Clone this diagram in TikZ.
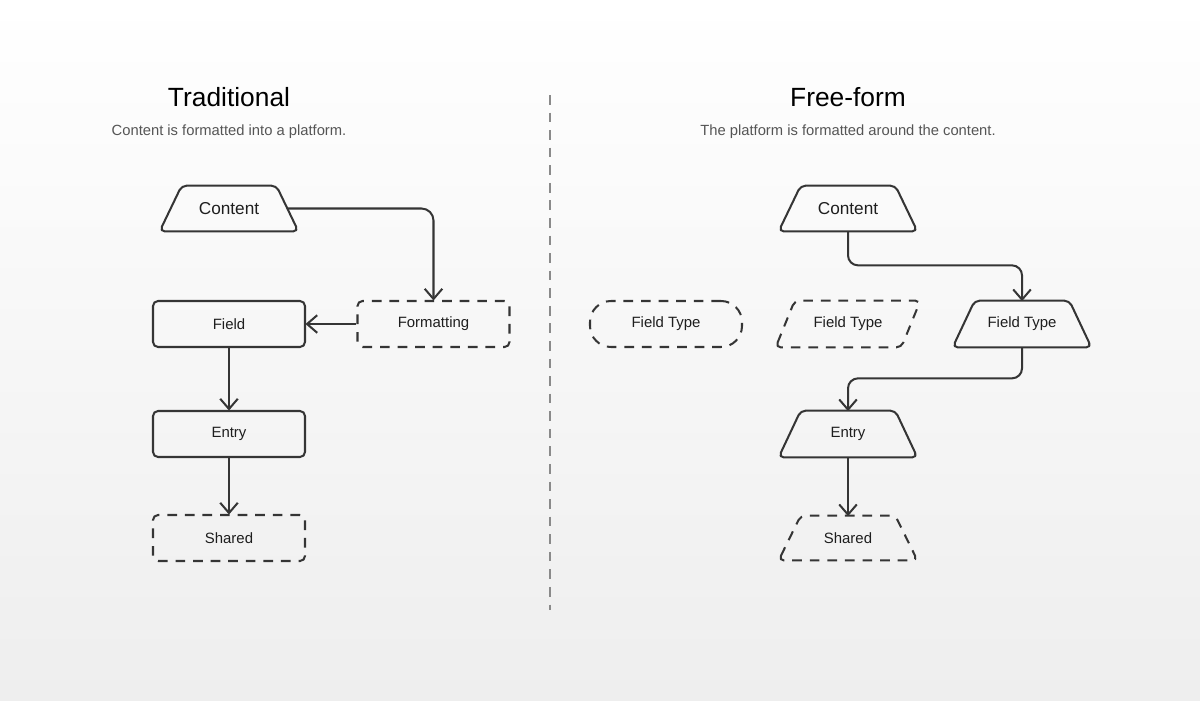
\documentclass[tikz,border=0pt]{standalone}
\usepackage{fontspec}
\setmainfont{Liberation Sans}
\usetikzlibrary{arrows.meta,calc}
\definecolor{ink}{HTML}{353535}
\definecolor{txt}{HTML}{1E1E1E}
\definecolor{sub}{HTML}{555555}
\definecolor{divc}{HTML}{8A8A8A}
\definecolor{bgb}{HTML}{EEEEEE}
\def\px{0.02cm}
\tikzset{
  lbl/.style={minimum width=152*\px, minimum height=46*\px, inner sep=0pt, text=txt,
    font=\fontsize{8.5}{10}\selectfont},
  box/.style={lbl, draw=ink, line width=1.15pt, rounded corners=5*\px},
  outl/.style={draw=ink, line width=1.15pt, line join=round, rounded corners=5*\px},
  dsh/.style={dash pattern=on 5.5pt off 4.5pt},
  tlbl/.style={lbl, minimum width=138*\px, minimum height=45*\px},
  plbl/.style={lbl, minimum width=144*\px},
  pill/.style={box, rounded corners=21*\px},
  big/.style={font=\fontsize{9.8}{12}\selectfont},
  conn/.style={draw=ink, line width=1.15pt, line join=round,
    -{Straight Barb[length=5.8pt,width=10pt,line join=round]}},
  title/.style={text=black, font=\fontsize{15}{18}\selectfont},
  subt/.style={text=sub, font=\fontsize{8.4}{10}\selectfont}
}
\newcommand{\trapout}[2][]{%
  \draw[outl,#1] (#2.south west) -- ($(#2.north west)+(22,0)$) -- ($(#2.north east)+(-22,0)$)
    -- (#2.south east) -- cycle;}
\begin{document}
\begin{tikzpicture}[x=0.02cm,y=-0.02cm]
\fill[top color=white, bottom color=bgb] (0,0) rectangle (1200,700);
\useasboundingbox (0,0) rectangle (1200,700);

% divider
\draw[divc, line width=0.8pt, dash pattern=on 5.5pt off 4.5pt] (550,95) coordinate (d1) -- (550,610) coordinate (d2);

% titles
\node[title] (tl) at (229,97) {Traditional};
\node[subt] (sl) at (229,131.5) {Content is formatted into a platform.};
\node[title] (tr) at (848,97) {Free-form};
\node[subt] (sr) at (848,131.5) {The platform is formatted around the content.};

% left side
\node[tlbl, big] (lc) at (229,208.5) {Content};
\trapout{lc}
\coordinate (lce) at ($(lc.east)+(-11,0)$);
\node[box] (lf) at (229,324) {Field};
\node[box, dsh] (lfo) at (433.5,324) {Formatting};
\node[box] (le) at (229,434) {Entry};
\node[box, dsh] (ls) at (229,538) {Shared};

\draw[conn, rounded corners=12*\px] (lce) -| (lfo.north);
\draw[conn] (lfo.west) -- (lf.east);
\draw[conn] (lf.south) -- (le.north);
\draw[conn] (le.south) -- (ls.north);

% right side
\node[tlbl, big] (rc) at (848,208.5) {Content};
\trapout{rc}
\node[pill, dsh] (rp) at (666,324) {Field Type};
\node[plbl] (rpa) at (848,324) {Field Type};
\draw[outl, dsh] (rpa.south west) -- ($(rpa.north west)+(19,0)$) -- (rpa.north east)
  -- ($(rpa.south east)+(-19,0)$) -- cycle;
\node[tlbl, minimum height=46*\px] (rft) at (1022,324) {Field Type};
\trapout{rft}
\node[tlbl, minimum height=46*\px] (re) at (848,434) {Entry};
\trapout{re}
\node[tlbl, minimum height=44*\px] (rs) at (848,538) {Shared};
\trapout[dsh]{rs}

\draw[conn, rounded corners=10*\px] (rc.south) -- ++(0,34) -| (rft.north);
\draw[conn, rounded corners=10*\px] (rft.south) -- ++(0,31) -| (re.north);
\draw[conn] (re.south) -- (rs.north);
\end{tikzpicture}
\end{document}
